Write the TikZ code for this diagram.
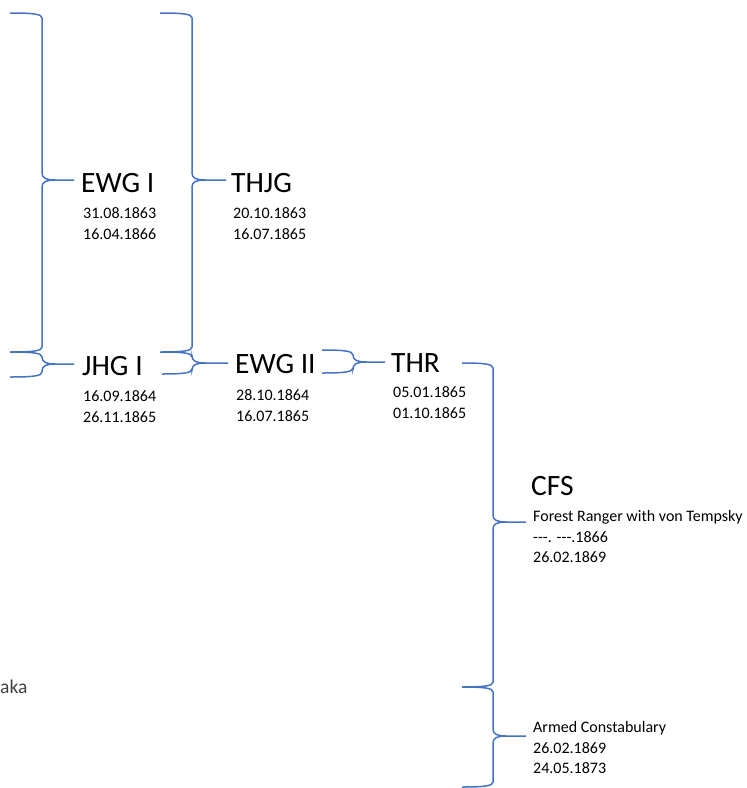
\documentclass[tikz,border=0pt]{standalone}
\usepackage{fontspec}
\setmainfont{Carlito}
\definecolor{brblue}{HTML}{4472C4}
\newcommand\rbr[6]{%
  \draw[brc] (#1,#2) .. controls (#3-9,#2) and (#3,#2+1) .. (#3,#2+5)
    -- (#3,#4-7) .. controls (#3,#4-2) and (#3+4,#4) .. (#3+13,#4)
    -- (#5,#4)
    (#3+13,#4) .. controls (#3+4,#4) and (#3,#4+2) .. (#3,#4+7)
    -- (#3,#6-5) .. controls (#3,#6-1) and (#3-9,#6) .. (#1,#6);}
\tikzset{
  brc/.style={draw=brblue, line width=1.5pt},
  title/.style={anchor=base west, inner sep=0pt, font=\fontsize{29.5}{34}\selectfont},
  small/.style={anchor=base west, inner sep=0pt, font=\fontsize{16}{19}\selectfont},
}
\begin{document}
\begin{tikzpicture}[x=1pt,y=-1pt]
\useasboundingbox (0,0) rectangle (747,788);
% braces
\rbr{10}{13}{42}{180}{74}{352}
\rbr{10}{352}{42}{364}{74}{377}
\rbr{160}{13}{192}{180}{226}{352}
\rbr{162}{352}{192}{363}{228}{374}
\rbr{322}{350}{353}{362}{385}{373}
\rbr{462}{363}{493}{522}{526}{687}
\rbr{462}{687}{493}{736}{526}{787}
% texts
\node[title] (ewg1) at (81,192) {EWG I};
\node[small] (ewg1a) at (83,218) {31.08.1863};
\node[small] (ewg1b) at (83,239) {16.04.1866};
\node[title] (thjg) at (231,192) {THJG};
\node[small] (thjga) at (233,218) {20.10.1863};
\node[small] (thjgb) at (233,239) {16.07.1865};
\node[title] (jhg1) at (82,375) {JHG I};
\node[small] (jhg1a) at (83,401) {16.09.1864};
\node[small] (jhg1b) at (83,422) {26.11.1865};
\node[title] (ewg2) at (235,373) {EWG II};
\node[small] (ewg2a) at (236,400) {28.10.1864};
\node[small] (ewg2b) at (236,421) {16.07.1865};
\node[title] (thr) at (391,372) {THR};
\node[small] (thra) at (393,397) {05.01.1865};
\node[small] (thrb) at (393,418) {01.10.1865};
\node[title] (cfs) at (531,495) {CFS};
\node[small] (cfsa) at (533,521) {Forest Ranger with von Tempsky};
\node[small] (cfsb) at (533,542) {-{}-{}-. -{}-{}-.1866};
\node[small] (cfsc) at (533,562) {26.02.1869};
\node[small] (aca) at (533,732) {Armed Constabulary};
\node[small] (acb) at (533,753) {26.02.1869};
\node[small] (acc) at (533,773) {24.05.1873};
\node[anchor=base west, inner sep=0pt, text=black!75, font=\fontsize{19.5}{23}\selectfont] (aka) at (0,693) {aka};
\end{tikzpicture}
\end{document}
